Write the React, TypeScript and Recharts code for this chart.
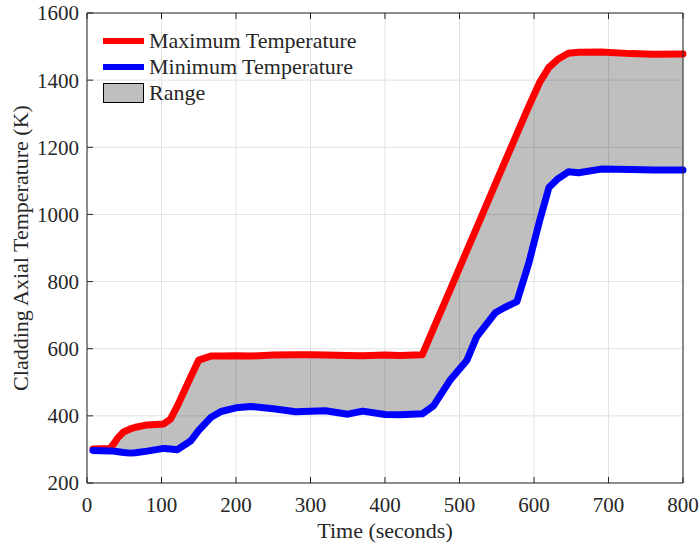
import {
  ComposedChart,
  Area,
  Line,
  XAxis,
  YAxis,
  CartesianGrid
} from 'recharts';

// time samples (s) with cladding temperatures (K)
const timeS = [
  8, 31, 35, 42, 49, 58, 65, 81, 103, 112, 121, 139, 150, 166, 180, 200, 220, 250, 280, 300,
  320, 350, 370, 400, 420, 450, 465, 487, 510, 523, 548, 560, 577, 593, 608, 620, 632, 646,
  660, 690, 730, 760, 800
];
const maxTemp = [
  301, 303, 314, 336, 352, 361, 366, 373, 376, 390, 428, 515, 566, 578, 578, 579, 578, 581, 582, 582,
  581, 580, 579, 581, 580, 582, 660, 773, 893, 960, 1090, 1152, 1240, 1322, 1395, 1438, 1462, 1480,
  1483, 1484, 1479, 1477, 1478
];
const minTemp = [
  297, 295, 295, 293, 291, 289, 290, 295, 303, 301, 299, 325, 357, 395, 413, 424, 428, 421, 412, 414,
  415, 405, 414, 404, 403, 406, 430, 505, 566, 635, 707, 722, 740, 855, 985, 1080, 1106, 1127,
  1124, 1135, 1134, 1132, 1132
];

const xTicks = [0, 100, 200, 300, 400, 500, 600, 700, 800];
const yTicks = [200, 400, 600, 800, 1000, 1200, 1400, 1600];

const legendItems = [
  { name: 'Maximum Temperature', kind: 'line', color: '#ff0000' },
  { name: 'Minimum Temperature', kind: 'line', color: '#0000ff' },
  { name: 'Range', kind: 'box', color: '#bfbfbf' }
];

const data = timeS.map((t, i) => ({
  t,
  max: maxTemp[i],
  min: minTemp[i],
  range: [minTemp[i], maxTemp[i]]
}));

const FONT = '"Liberation Serif", "Times New Roman", serif';
const INK = '#262626';

const noLabel = () => <g />;

function YLabel({ viewBox }: any) {
  const cx = viewBox.x + 28;
  const cy = viewBox.y + viewBox.height / 2;
  return (
    <text
      x={cx}
      y={cy}
      transform={`rotate(-90, ${cx}, ${cy})`}
      textAnchor="middle"
      fontSize={22}
      fontFamily={FONT}
      fill={INK}
    >
      Cladding Axial Temperature (K)
    </text>
  );
}

// MATLAB style legend, no box
function LegendBox() {
  return (
    <div
      style={{
        position: 'absolute',
        left: 100,
        top: 28,
        fontFamily: FONT,
        fontSize: 22,
        color: INK,
        lineHeight: '26px'
      }}
    >
      {legendItems.map((item) => (
        <div key={item.name} style={{ display: 'flex', alignItems: 'center', height: 26 }}>
          <svg width={46} height={26} style={{ display: 'block' }}>
            {item.kind === 'line' ? (
              <line x1={3} x2={44} y1={13} y2={13} stroke={item.color} strokeWidth={6} />
            ) : (
              <rect x={3.5} y={3.5} width={40} height={19} fill={item.color} stroke="#000" strokeWidth={1} />
            )}
          </svg>
          <span style={{ marginLeft: 3 }}>{item.name}</span>
        </div>
      ))}
    </div>
  );
}

export default function App() {
  return (
    <div style={{ position: 'absolute', left: 0, top: 0, width: 700, height: 547, background: '#fff' }}>
      <ComposedChart
        width={700}
        height={547}
        data={data}
        margin={{ top: 12, right: 16, left: 0, bottom: 0 }}
        style={{ fontFamily: FONT }}
      >
        <CartesianGrid
          xAxisId="b"
          yAxisId="l"
          stroke="#e2e2e2"
          strokeWidth={1}
        />
        <XAxis
          xAxisId="b"
          dataKey="t"
          type="number"
          domain={[0, 800]}
          ticks={xTicks}
          height={64}
          tickSize={-6}
          tickMargin={20}
          axisLine={{ stroke: INK }}
          tickLine={{ stroke: INK }}
          tick={{ fill: INK, fontSize: 21, fontFamily: FONT }}
          label={{
            value: 'Time (seconds)',
            position: 'insideBottom',
            offset: 9,
            fill: INK,
            fontSize: 22,
            fontFamily: FONT
          }}
        />
        <XAxis
          xAxisId="top"
          orientation="top"
          dataKey="t"
          type="number"
          domain={[0, 800]}
          ticks={xTicks}
          height={1}
          tickSize={-6}
          axisLine={{ stroke: INK }}
          tickLine={{ stroke: INK }}
          tick={noLabel}
        />
        <YAxis
          yAxisId="l"
          type="number"
          domain={[200, 1600]}
          ticks={yTicks}
          width={87}
          tickSize={-6}
          tickMargin={14}
          axisLine={{ stroke: INK }}
          tickLine={{ stroke: INK }}
          tick={{ fill: INK, fontSize: 21, fontFamily: FONT }}
          label={<YLabel />}
        />
        <YAxis
          yAxisId="r"
          orientation="right"
          type="number"
          domain={[200, 1600]}
          ticks={yTicks}
          width={1}
          tickSize={-6}
          axisLine={{ stroke: INK }}
          tickLine={{ stroke: INK }}
          tick={noLabel}
        />
        <Area
          xAxisId="b"
          yAxisId="l"
          dataKey="range"
          type="linear"
          stroke="none"
          fill="#000"
          fillOpacity={0.25}
          dot={false}
          activeDot={false}
          isAnimationActive={false}
        />
        <Line
          xAxisId="b"
          yAxisId="l"
          dataKey="max"
          type="linear"
          stroke="#ff0000"
          strokeWidth={7}
          strokeLinejoin="round"
          strokeLinecap="round"
          dot={false}
          activeDot={false}
          isAnimationActive={false}
        />
        <Line
          xAxisId="b"
          yAxisId="l"
          dataKey="min"
          type="linear"
          stroke="#0000ff"
          strokeWidth={7}
          strokeLinejoin="round"
          strokeLinecap="round"
          dot={false}
          activeDot={false}
          isAnimationActive={false}
        />
      </ComposedChart>
      <LegendBox />
    </div>
  );
}
